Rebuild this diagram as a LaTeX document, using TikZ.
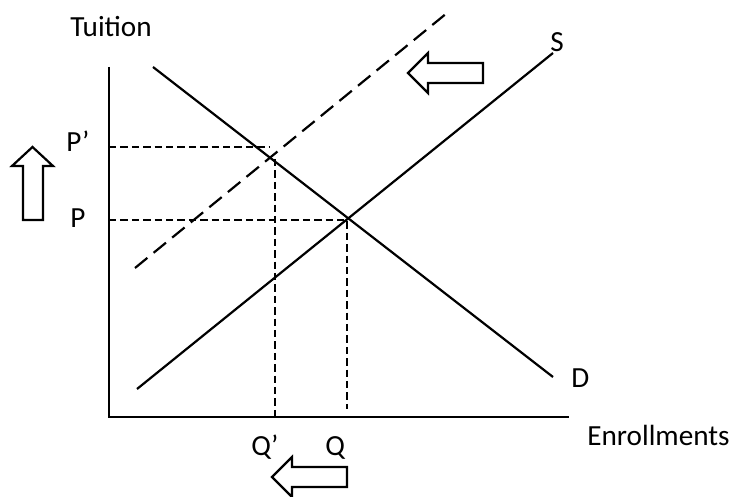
\documentclass[tikz,border=0pt]{standalone}
\usepackage{fontspec}
\setmainfont{Carlito}
\begin{document}
\begin{tikzpicture}[x=0.5pt,y=-0.5pt,
  curve/.style={line width=1.1pt},
  axisline/.style={line width=1.3pt},
  guide/.style={line width=1.2pt, dash pattern=on 3.7pt off 2pt},
  shifted/.style={line width=1.1pt, dash pattern=on 8pt off 4pt},
  bigarrow/.style={line width=1.1pt, fill=white, line join=miter},
  lbl/.style={inner sep=0pt, font=\fontsize{14.6}{17}\selectfont}]
\useasboundingbox (0,0) rectangle (734,497);
% axes
\coordinate (Ytop) at (109,67);
\coordinate (O) at (109,417);
\coordinate (Xend) at (569,417);
\draw[axisline] (Ytop) -- (O) -- (Xend);
% curves
\coordinate (D1) at (153,67);
\coordinate (D2) at (553,377);
\coordinate (S1) at (137,389);
\coordinate (S2) at (553,53);
\coordinate (T1) at (135,268);
\coordinate (T2) at (447,13);
\draw[curve] (D1) -- (D2);
\draw[curve] (S1) -- (S2);
\draw[shifted] (T1) -- (T2);
% guides
\coordinate (Py) at (109,220);
\coordinate (E) at (347,220);
\coordinate (Qb) at (347,409);
\coordinate (Ppy) at (109,147);
\coordinate (Ppe) at (270,147);
\coordinate (Ep) at (275,159);
\coordinate (Qpb) at (275,419);
\draw[guide] (Py) -- (E) -- (Qb);
\draw[guide] (Ppy) -- (Ppe);
\draw[guide] (Ep) -- (Qpb);
% labels
\node[lbl, anchor=base] (tuition) at (111,37) {Tuition};
\node[lbl, anchor=base west] (pp) at (66,152) {P’};
\node[lbl, anchor=base west] (p) at (70,228) {P};
\node[lbl, anchor=base west] (qp) at (251,455) {Q’};
\node[lbl, anchor=base west] (q) at (325,455) {Q};
\node[lbl, anchor=base west] (enr) at (587,445) {Enrollments};
\node[lbl, anchor=base west] (dl) at (571,387) {D};
\node[lbl, anchor=base west] (sl) at (550,52) {S};
% block arrows
\draw[bigarrow] (23,220) -- (23,166) -- (12,166) -- (32.5,147) -- (53,166) -- (43,166) -- (43,220) -- cycle;
\draw[bigarrow] (483,63) -- (428,63) -- (428,53) -- (408,73) -- (428,93) -- (428,83) -- (483,83) -- cycle;
\draw[bigarrow] (347,467) -- (292,467) -- (292,457) -- (272,477) -- (292,497) -- (292,487) -- (347,487) -- cycle;
\end{tikzpicture}
\end{document}
